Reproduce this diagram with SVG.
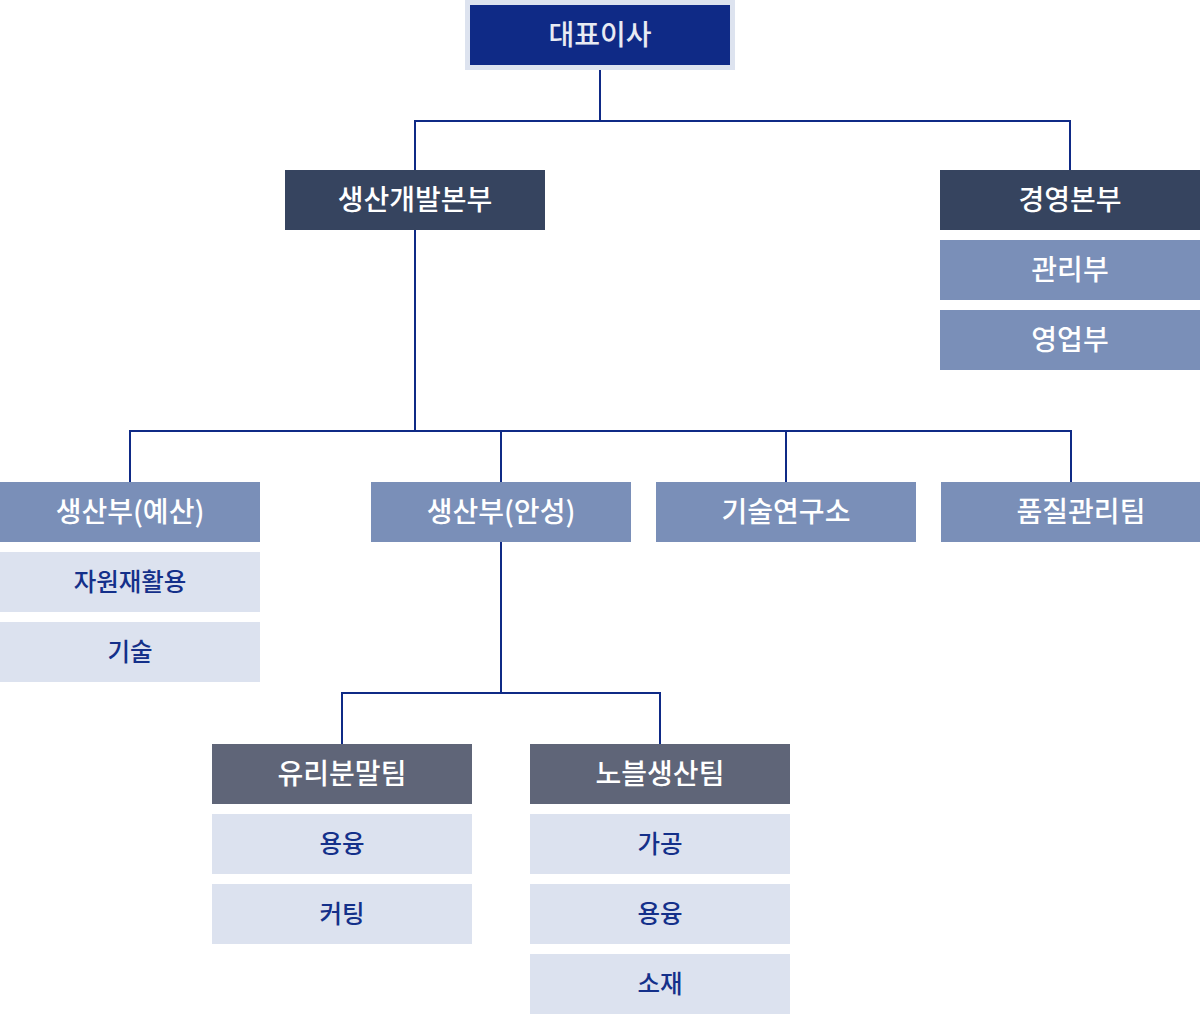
<svg xmlns="http://www.w3.org/2000/svg" width="1200" height="1014" viewBox="0 0 1200 1014">
<style>
text{font-family:"Noto Sans CJK KR","Noto Sans",sans-serif;text-anchor:middle;dominant-baseline:central}
.t1{font-size:28px;font-weight:500;fill:#ffffff}
.t2{font-size:24.5px;font-weight:500;fill:#14308a}
.ceo{fill:#0f2a86}
.hq{fill:#36445f}
.dept{fill:#7a8fb8}
.team{fill:#5f6578}
.sub{fill:#dce2ef}
.conn{fill:none;stroke:#0f2a86;stroke-width:2}
</style>
<rect width="1200" height="1014" fill="#ffffff"/>
<g id="connectors">
<path class="conn" d="M600 70V121M415 170V121H1070V170"/>
<path class="conn" d="M415 230V431M130 482V431H1071V482M501 431V482M786 431V482"/>
<path class="conn" d="M501 542V693M342 744V693H660V744"/>
</g>
<g id="ceo"><rect x="465" y="0" width="270" height="70" fill="#dde3ef"/><rect class="ceo" x="470" y="5" width="260" height="60"/><text class="t1" x="600" y="33" style="fill:#e8ebf3">대표이사</text></g>
<g id="hq-prod"><rect class="hq" x="285" y="170" width="260" height="60"/><text class="t1" x="415" y="198">생산개발본부</text></g>
<g id="hq-mgmt"><rect class="hq" x="940" y="170" width="260" height="60"/><text class="t1" x="1070" y="198">경영본부</text></g>
<g id="admin"><rect class="dept" x="940" y="240" width="260" height="60"/><text class="t1" x="1070" y="268">관리부</text></g>
<g id="sales"><rect class="dept" x="940" y="310" width="260" height="60"/><text class="t1" x="1070" y="338">영업부</text></g>
<g id="prod-yesan"><rect class="dept" x="0" y="482" width="260" height="60"/><text class="t1" x="130" y="510">생산부(예산)</text></g>
<g id="recycle"><rect class="sub" x="0" y="552" width="260" height="60"/><text class="t2" x="130" y="580">자원재활용</text></g>
<g id="tech"><rect class="sub" x="0" y="622" width="260" height="60"/><text class="t2" x="130" y="650">기술</text></g>
<g id="prod-anseong"><rect class="dept" x="371" y="482" width="260" height="60"/><text class="t1" x="501" y="510">생산부(안성)</text></g>
<g id="lab"><rect class="dept" x="656" y="482" width="260" height="60"/><text class="t1" x="786" y="510">기술연구소</text></g>
<g id="qa"><rect class="dept" x="941" y="482" width="259" height="60"/><text class="t1" x="1081" y="510">품질관리팀</text></g>
<g id="glass"><rect class="team" x="212" y="744" width="260" height="60"/><text class="t1" x="342" y="772">유리분말팀</text></g>
<g id="glass-melt"><rect class="sub" x="212" y="814" width="260" height="60"/><text class="t2" x="342" y="842">용융</text></g>
<g id="glass-cut"><rect class="sub" x="212" y="884" width="260" height="60"/><text class="t2" x="342" y="912">커팅</text></g>
<g id="noble"><rect class="team" x="530" y="744" width="260" height="60"/><text class="t1" x="660" y="772">노블생산팀</text></g>
<g id="noble-proc"><rect class="sub" x="530" y="814" width="260" height="60"/><text class="t2" x="660" y="842">가공</text></g>
<g id="noble-melt"><rect class="sub" x="530" y="884" width="260" height="60"/><text class="t2" x="660" y="912">용융</text></g>
<g id="noble-mat"><rect class="sub" x="530" y="954" width="260" height="60"/><text class="t2" x="660" y="982">소재</text></g>
</svg>
